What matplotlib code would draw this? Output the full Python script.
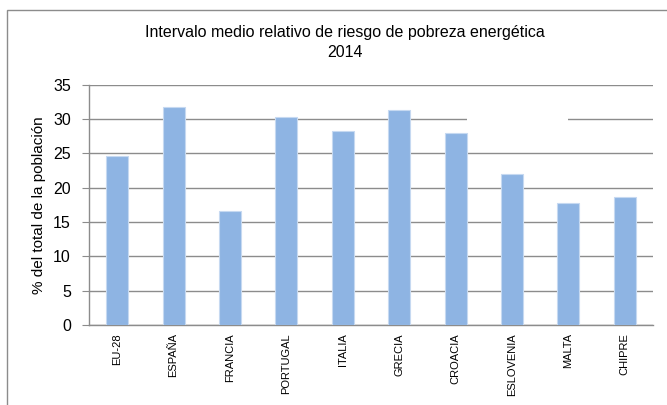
import matplotlib
matplotlib.use("Agg")
import matplotlib.pyplot as plt
from matplotlib.patches import Rectangle

categories = ["EU-28", "ESPAÑA", "FRANCIA", "PORTUGAL", "ITALIA", "GRECIA",
              "CROACIA", "ESLOVENIA", "MALTA", "CHIPRE"]
values = [24.6, 31.7, 16.6, 30.3, 28.3, 31.3, 27.9, 22.0, 17.8, 18.6]
yticks = [0, 5, 10, 15, 20, 25, 30, 35]
title = "Intervalo medio relativo de riesgo de pobreza energética\n2014"
ylabel = "% del total de la población"

plt.rcParams['font.family'] = ['Liberation Sans', 'DejaVu Sans']

fig = plt.figure(figsize=(6.67, 4.05), dpi=100)
ax = fig.add_axes([89/667, 1-325/405, (653-89)/667, (325-84.7)/405])

# outer chart frame
fig.patches.append(Rectangle((7/667, -0.1), 1.2, 1-10/405+0.1, transform=fig.transFigure,
                             fill=False, edgecolor='#8c8c8c', linewidth=1.0, zorder=0))

x = list(range(len(categories)))
ax.bar(x, values, width=0.39, color='#8EB4E3', edgecolor='#C6D9F1', linewidth=0.8, zorder=3)

ax.set_xlim(-0.5, len(categories) - 0.5)
ax.set_ylim(0, 35)
ax.set_yticks(yticks)
ax.set_yticklabels([str(t) for t in yticks], fontsize=11.5)
ax.set_xticks(x)
ax.set_xticklabels(categories, rotation=90, fontsize=8)
ax.tick_params(axis='x', length=0, pad=6)
ax.tick_params(axis='y', length=5, width=0.8, color='#8c8c8c', pad=8)

ax.yaxis.grid(True, color='#8c8c8c', linewidth=1.0, zorder=1)
ax.set_axisbelow(True)
for s in ['top', 'right']:
    ax.spines[s].set_visible(False)
for s in ['left', 'bottom']:
    ax.spines[s].set_color('#8c8c8c')
    ax.spines[s].set_linewidth(1.0)

# white gap on the 30 gridline (as in reference)
ax.add_patch(Rectangle((6.195, 29.6), 8.0 - 6.195, 0.8, facecolor='white',
                       edgecolor='none', zorder=2))

ax.set_ylabel(ylabel, fontsize=11)
ax.yaxis.set_label_coords(-0.076, 0.5)
fig.text(0.517, 1-42.5/405, title, ha='center', va='center', fontsize=11.5, linespacing=1.35)

fig.savefig("out.png", dpi=100)
